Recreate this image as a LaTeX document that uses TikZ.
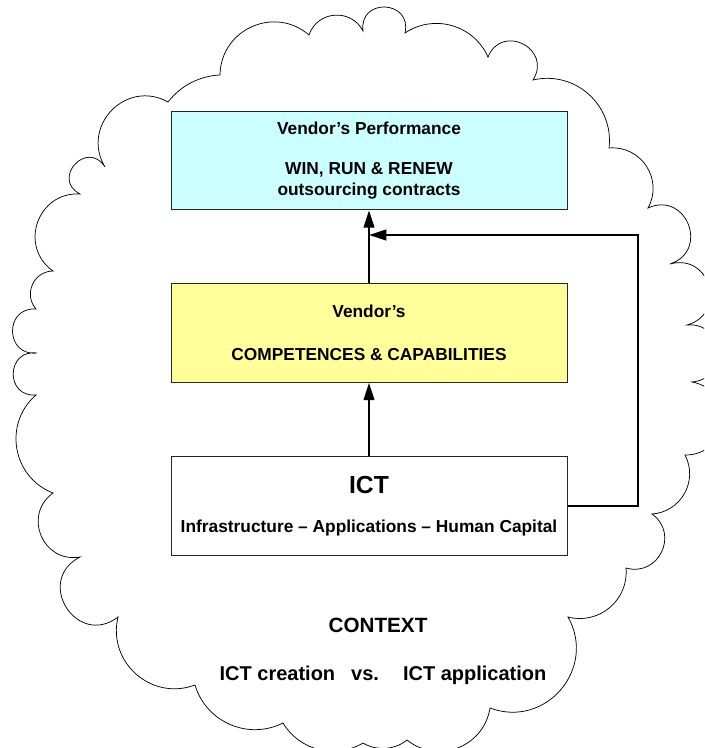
\documentclass[tikz,border=0pt]{standalone}
\usepackage{fontspec}
\setmainfont{Liberation Sans}
\usetikzlibrary{arrows.meta}
\definecolor{perfcyan}{HTML}{CCFFFF}
\definecolor{compyellow}{HTML}{FFFF99}
\tikzset{
  bump/.code={\pgfmathsetmacro\bumploose{0.851/(cos(#1/2)^2)}\tikzset{bend left=#1,looseness/.expanded=\bumploose}},
  box/.style={draw=black!85, line width=0.75pt, minimum width=297pt, minimum height=74pt,
    inner sep=0pt, align=center, font=\fontsize{13}{15.6}\selectfont\bfseries},
  link/.style={line width=1.5pt, -{Triangle[length=13pt,width=8pt]}},
}

\begin{document}
\begin{tikzpicture}[x=0.75pt, y=-0.75pt]
\clip (0,0) rectangle (704,748);
\fill[white] (0,0) rectangle (704,748);
\foreach \n/\px/\py in {1/220/75, 2/309/35, 3/363/31, 4/405/33, 5/488/57, 6/533/80,
  7/609/148, 8/648/208, 9/670/264, 10/687/325, 11/692/382, 12/685/455, 13/652/514,
  14/626/568, 15/568/617, 16/490/708, 17/407/740, 18/363/743, 19/283/723, 20/195/685,
  21/118/617, 22/80/557, 23/53/493, 24/36/395, 25/37/353, 26/36/309, 27/53/271,
  28/80/194, 29/105/167, 30/168/102}
  \coordinate (c\n) at (\px,\py);
\draw[line width=0.55pt] (c1) to[bump=65] (c2) to[bump=67] (c3) to[bump=100] (c4)
  to[bump=50] (c5) to[bump=95] (c6) to[bump=55] (c7) to[bump=62] (c8) to[bump=93] (c9)
  to[bump=90] (c10) to[bump=90] (c11) to[bump=85] (c12) to[bump=57] (c13) to[bump=80] (c14)
  to[bump=55] (c15) to[bump=70] (c16) to[bump=60] (c17) to[bump=35] (c18) to[bump=45] (c19)
  to[bump=50] (c20) to[bump=62] (c21) to[bump=95] (c22) to[bump=77] (c23) to[bump=59] (c24)
  to[bump=96] (c25) to[bump=95] (c26) to[bump=65] (c27) to[bump=74] (c28) to[bump=105] (c29)
  to[bump=75] (c30) to[bump=25] (c1);
\node[box, fill=perfcyan] (perf) at (369,160.5)
  {Vendor’s Performance\\[14.4pt]WIN, RUN \& RENEW\\outsourcing contracts};
\node[box, fill=compyellow] (comp) at (369,333)
  {Vendor’s\\[16.6pt]COMPETENCES \& CAPABILITIES};
\node[box, fill=white] (ict) at (369,506)
  {{\fontsize{18.5}{22}\selectfont ICT}\\[14pt]Infrastructure – Applications – Human Capital};
\node[font=\fontsize{15.5}{18}\selectfont\bfseries] (context) at (378,625) {CONTEXT};
\node[font=\fontsize{15}{18}\selectfont\bfseries] (creation) at (383,675)
  {ICT creation\hspace{12pt}vs.\hspace{18pt}ICT application};
\coordinate (meet) at (369,235);
\coordinate (corner) at (638,235);
\draw[link] (comp) -- (perf);
\draw[link] (ict) -- (comp);
\draw[link] (ict.east) -| (corner) -- (meet);
\end{tikzpicture}
\end{document}
